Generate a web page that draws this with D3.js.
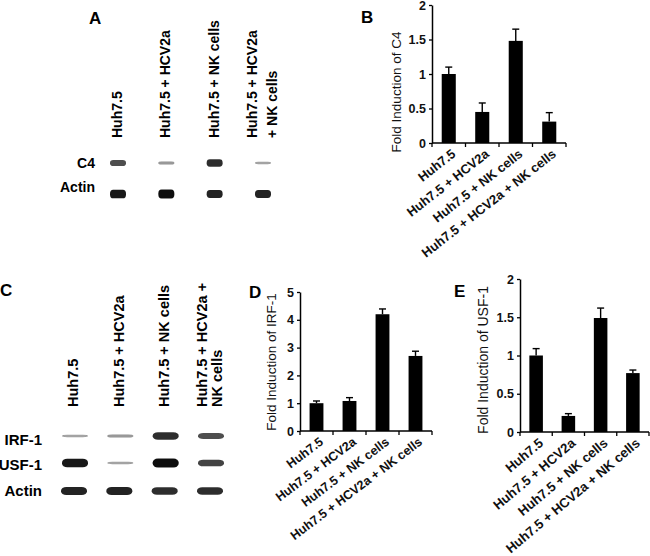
<!DOCTYPE html>
<html><head><meta charset="utf-8">
<script src="https://cdn.jsdelivr.net/npm/d3@7"></script>
<style>body{margin:0;background:#fff}svg{display:block}text{font-family:"Liberation Sans",Arial,sans-serif}</style>
</head><body><svg id="c" width="650" height="556"></svg>
<script>
// ---- data ----
const categories = ["Huh7.5", "Huh7.5 + HCV2a", "Huh7.5 + NK cells", "Huh7.5 + HCV2a + NK cells"];
const c4Values = [1.0, 0.45, 1.48, 0.31];
const c4Errors = [0.1, 0.13, 0.17, 0.13];
const irfValues = [1.0, 1.08, 4.2, 2.7];
const irfErrors = [0.08, 0.12, 0.19, 0.17];
const usfValues = [1.0, 0.21, 1.49, 0.77];
const usfErrors = [0.09, 0.03, 0.13, 0.04];
const c4Ticks = [0, 0.5, 1, 1.5, 2];
const irfTicks = [0, 1, 2, 3, 4, 5];
const usfTicks = [0, 0.5, 1, 1.5, 2];
// blot lane labels (lines)
const blotALanes = [["Huh7.5"], ["Huh7.5 + HCV2a"], ["Huh7.5 + NK cells"], ["Huh7.5 + HCV2a", "+ NK cells"]];
const blotCLanes = [["Huh7.5"], ["Huh7.5 + HCV2a"], ["Huh7.5 + NK cells"], ["Huh7.5 + HCV2a +", "NK cells"]];
// band intensities (relative)
const blotARows = ["C4", "Actin"];
const bandC4 = [0.7, 0.35, 0.85, 0.3];
const bandActinA = [0.95, 1.0, 0.9, 0.9];
const blotCRows = ["IRF-1", "USF-1", "Actin"];
const bandIRF = [0.3, 0.35, 0.85, 0.7];
const bandUSF = [0.95, 0.3, 1.0, 0.75];
const bandActinC = [0.9, 0.9, 0.85, 0.85];

const svg = d3.select("#c");
const defs = svg.append("defs");
defs.append("filter").attr("id","blur").attr("x","-30%").attr("y","-100%").attr("width","160%").attr("height","300%")
  .append("feGaussianBlur").attr("stdDeviation", 0.6);

function panelLetter(t, x, y){
  svg.append("text").attr("x",x).attr("y",y).attr("font-size",17).attr("font-weight","bold").text(t);
}
panelLetter("A", 89, 24);
panelLetter("B", 361, 23);
panelLetter("C", 0, 296);
panelLetter("D", 249, 298);
panelLetter("E", 454, 297);

// ---- bar charts ----
function barChart(o){
  const g = svg.append("g");
  const x = d3.scaleBand().domain(categories).range([o.x0, o.x1]).paddingInner(0.58).paddingOuter(0.29);
  const y = d3.scaleLinear().domain([0, o.max]).range([o.y0, o.yTop]);
  const step = x.step();
  g.selectAll("rect.bar").data(o.values).join("rect")
    .attr("x",(d,i)=>x(categories[i])).attr("width",x.bandwidth())
    .attr("y",d=>y(d)).attr("height",d=>y(0)-y(d)).attr("fill","#000");
  const cx = i => x(categories[i]) + x.bandwidth()/2;
  g.selectAll("line.err").data(o.values).join("line")
    .attr("x1",(d,i)=>cx(i)).attr("x2",(d,i)=>cx(i))
    .attr("y1",d=>y(d)).attr("y2",(d,i)=>y(d+o.errors[i])).attr("stroke","#000").attr("stroke-width",1.4);
  g.selectAll("line.cap").data(o.values).join("line")
    .attr("x1",(d,i)=>cx(i)-3.5).attr("x2",(d,i)=>cx(i)+3.5)
    .attr("y1",(d,i)=>y(d+o.errors[i])).attr("y2",(d,i)=>y(d+o.errors[i])).attr("stroke","#000").attr("stroke-width",1.4);
  const ya = g.append("g").attr("transform",`translate(${o.x0},0)`)
    .call(d3.axisLeft(y).tickValues(o.ticks).tickSize(3).tickSizeOuter(0).tickFormat(d=>d3.format("")(d)));
  ya.select(".domain").attr("stroke","#000").attr("stroke-width",1.5);
  ya.selectAll(".tick line").attr("stroke-width",1.3);
  ya.selectAll(".tick text").attr("font-size",12.5).attr("font-weight","bold").attr("font-family","Liberation Sans, Arial, sans-serif").attr("fill","#111").attr("x",-6);
  g.append("line").attr("x1",o.x0).attr("x2",o.x1).attr("y1",o.y0).attr("y2",o.y0).attr("stroke","#000").attr("stroke-width",1.5);
  const tickX = categories.map(c=>x(c) - step*x.paddingInner()/2);
  tickX[0] = o.x0; tickX.push(o.x1);
  g.selectAll("line.xt").data(tickX).join("line").attr("x1",d=>d).attr("x2",d=>d)
    .attr("y1",o.y0).attr("y2",o.y0+4).attr("stroke","#000").attr("stroke-width",1.3);
  g.selectAll("text.cat").data(categories).join("text")
    .attr("transform",(d,i)=>`translate(${cx(i)+5},${o.y0+9}) rotate(${o.angle})`)
    .attr("text-anchor","end").attr("dy","0.35em").attr("font-size",o.catSize).attr("font-weight","bold").attr("fill","#111").text(d=>d);
  g.append("text").attr("transform",`translate(${o.titleX},${o.titleY}) rotate(-90)`)
    .attr("text-anchor","middle").attr("font-size",o.titleSize).attr("fill","#111").text(o.title);
}

barChart({x0:432, x1:566, y0:143, yTop:5, max:2, values:c4Values, errors:c4Errors, ticks:c4Ticks,
  title:"Fold Induction of C4", titleX:401, titleY:92, titleSize:13.5, catSize:13, angle:-38});
barChart({x0:300, x1:432, y0:431, yTop:292, max:5, values:irfValues, errors:irfErrors, ticks:irfTicks,
  title:"Fold Induction of IRF-1", titleX:276, titleY:362, titleSize:13.5, catSize:12.6, angle:-37});
barChart({x0:520, x1:649, y0:432, yTop:279, max:2, values:usfValues, errors:usfErrors, ticks:usfTicks,
  title:"Fold Induction of USF-1", titleX:488, titleY:360, titleSize:14, catSize:13.3, angle:-40});

// ---- blots ----
const thick = d3.scaleLinear().domain([0.3,1]).range([2.5,9]);
const dark = d3.scaleLinear().domain([0.3,1]).range([0.4,1]);
function blot(o){
  const g = svg.append("g");
  const lx = d3.scalePoint().domain(d3.range(o.lanes.length)).range([o.lx0, o.lx1]);
  o.lanes.forEach((lines,i)=>{
    const n = lines.length;
    lines.forEach((t,j)=>{
      const xx = lx(i) + (j-(n-1)/2)*o.lineGap;
      g.append("text").attr("transform",`translate(${xx},${o.labelBottom}) rotate(-90)`)
        .attr("dy","0.36em").attr("font-size",o.laneSize).attr("font-weight","bold").attr("fill","#000").text(t);
    });
  });
  o.rows.forEach((r,ri)=>{
    g.append("text").attr("x",o.rowLabelX).attr("y",o.rowY[ri]).attr("dy","0.36em").attr("text-anchor","end")
      .attr("font-size",o.rowSize).attr("font-weight","bold").attr("fill","#000").text(r);
    const vals = o.bands[ri];
    g.selectAll(null).data(vals).join("rect")
      .attr("x",(d,i)=>lx(i)+o.bandOff[ri]-o.bandW/2).attr("width",o.bandW)
      .attr("y",d=>o.bandY[ri]-thick(d)/2).attr("height",d=>thick(d))
      .attr("rx",o.bandW/5).attr("ry",d=>thick(d)/2.2)
      .attr("fill","#111").attr("fill-opacity",d=>dark(d)).attr("filter","url(#blur)");
  });
}
blot({lanes:blotALanes, lx0:117, lx1:262, lineGap:20, labelBottom:138, laneSize:14,
  rows:blotARows, rowY:[163,187], rowLabelX:95, rowSize:14, bands:[bandC4, bandActinA],
  bandY:[163,194], bandW:16, bandOff:[1,1]});
blot({lanes:blotCLanes, lx0:73, lx1:209, lineGap:15, labelBottom:407, laneSize:14.5,
  rows:blotCRows, rowY:[440,465,491], rowLabelX:42, rowSize:15, bands:[bandIRF, bandUSF, bandActinC],
  bandY:[436,463,491], bandW:26, bandOff:[2,2,1]});
</script></body></html>
